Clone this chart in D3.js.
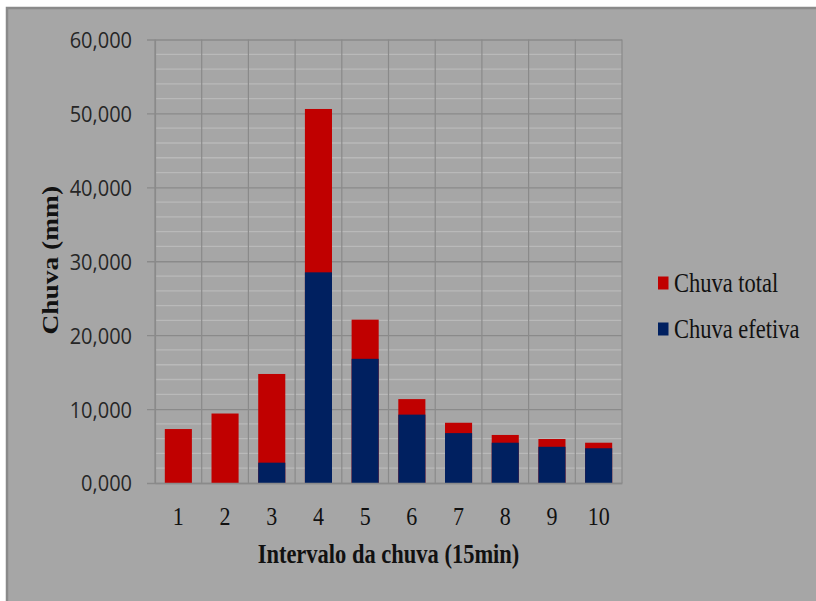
<!DOCTYPE html>
<html>
<head>
<meta charset="utf-8">
<script src="https://cdn.jsdelivr.net/npm/d3@7"></script>
<style>
  html, body { margin: 0; padding: 0; background: #ffffff; }
  svg { display: block; }
</style>
</head>
<body>
<svg id="chart" width="816" height="601"></svg>
<script>
// ---- Data (values in mm) ----
const categories = ["1", "2", "3", "4", "5", "6", "7", "8", "9", "10"];
const chuvaTotal = [7.3, 9.4, 14.75, 50.6, 22.1, 11.35, 8.15, 6.5, 5.95, 5.45];
const chuvaEfetiva = [0, 0, 2.75, 28.5, 16.8, 9.25, 6.75, 5.45, 4.9, 4.7];
const yMajorTicks = [0, 10, 20, 30, 40, 50, 60];
const yMinorTicks = [2, 4, 6, 8, 12, 14, 16, 18, 22, 24, 26, 28, 32, 34, 36, 38, 42, 44, 46, 48, 52, 54, 56, 58];
const seriesNames = ["Chuva total", "Chuva efetiva"];
const seriesColors = ["#c00000", "#002060"];
const xTitle = "Intervalo da chuva (15min)";
const yTitle = "Chuva (mm)";

const svg = d3.select("#chart");
const plot = { left: 155, right: 622, top: 39.5, bottom: 483 };

// chart frame
svg.append("rect").attr("x", 7).attr("y", 8).attr("width", 840).attr("height", 640)
  .attr("fill", "#a6a6a6").attr("stroke", "#8a8a8a").attr("stroke-width", 2.5);

const x = d3.scaleBand().domain(categories).range([plot.left, plot.right])
  .paddingInner(0.42).paddingOuter(0.21);
const y = d3.scaleLinear().domain([0, 60]).range([plot.bottom, plot.top]);

const ptBR = d3.formatLocale({ decimal: ",", thousands: ".", grouping: [3], currency: ["R$", ""] });
const fmt = ptBR.format(".3f");

// minor gridlines
svg.append("g").selectAll("line").data(yMinorTicks).join("line")
  .attr("x1", plot.left).attr("x2", plot.right)
  .attr("y1", d => y(d)).attr("y2", d => y(d))
  .attr("stroke", "#b9b9b9").attr("stroke-width", 1.3);

// vertical category gridlines
const boundaries = d3.range(categories.length + 1).map(i => plot.left + i * (plot.right - plot.left) / categories.length);
svg.append("g").selectAll("line").data(boundaries).join("line")
  .attr("x1", d => d).attr("x2", d => d)
  .attr("y1", plot.top).attr("y2", plot.bottom)
  .attr("stroke", "#8a8a8a").attr("stroke-width", 1.2);

// major gridlines + y axis ticks
const yAxis = d3.axisLeft(y).tickValues(yMajorTicks).tickFormat(fmt)
  .tickSizeInner(-(plot.right - plot.left)).tickSizeOuter(0).tickPadding(0);
const gy = svg.append("g").attr("transform", `translate(${plot.left},0)`).call(yAxis);
gy.select(".domain").attr("stroke", "#8a8a8a").attr("stroke-width", 1.2);
gy.selectAll(".tick line").attr("x1", -8).attr("stroke", "#8a8a8a").attr("stroke-width", 1.3);
gy.selectAll(".tick text").remove();
gy.selectAll(".tick").append("text")
  .attr("transform", "translate(-23,0) scale(1,1.1)")
  .attr("text-anchor", "end").attr("dy", "0.36em")
  .attr("fill", "#262626")
  .style("font-family", "'Open Sans', sans-serif").style("font-size", "20px")
  .text(d => fmt(d));

// bars: total (red) behind, efetiva (blue) in front
const barsData = categories.map((c, i) => ({ c, total: chuvaTotal[i], ef: chuvaEfetiva[i] }));
svg.append("g").selectAll("rect").data(barsData).join("rect")
  .attr("x", d => x(d.c)).attr("width", x.bandwidth())
  .attr("y", d => y(d.total)).attr("height", d => y(0) - y(d.total))
  .attr("fill", seriesColors[0]);
svg.append("g").selectAll("rect").data(barsData.filter(d => d.ef > 0)).join("rect")
  .attr("x", d => x(d.c)).attr("width", x.bandwidth())
  .attr("y", d => y(d.ef)).attr("height", d => y(0) - y(d.ef))
  .attr("fill", seriesColors[1]);

// x axis
const xAxis = d3.axisBottom(x).tickSize(0).tickPadding(0);
const gx = svg.append("g").attr("transform", `translate(0,${plot.bottom})`).call(xAxis);
gx.select(".domain").attr("stroke", "#8a8a8a").attr("stroke-width", 1.5);
gx.selectAll(".tick text").remove();
gx.selectAll(".tick").append("text")
  .attr("transform", "translate(0,42) scale(1,1.16)")
  .attr("text-anchor", "middle")
  .attr("fill", "#111")
  .style("font-family", "'Liberation Serif', 'Times New Roman', serif").style("font-size", "22px")
  .text(d => d);

// axis titles
svg.append("text")
  .attr("transform", `translate(${(plot.left + plot.right) / 2},563) scale(1,1.18)`)
  .attr("text-anchor", "middle").attr("fill", "#111")
  .style("font-family", "'Liberation Serif', 'Times New Roman', serif")
  .style("font-size", "22.5px").style("font-weight", "bold")
  .text(xTitle);

svg.append("text")
  .attr("transform", `translate(58,${(plot.top + plot.bottom) / 2 - 1}) rotate(-90) scale(1.22,1)`)
  .attr("text-anchor", "middle").attr("fill", "#111")
  .style("font-family", "'Liberation Serif', 'Times New Roman', serif")
  .style("font-size", "22.5px").style("font-weight", "bold")
  .text(yTitle);

// legend
const legend = svg.append("g");
const legendRows = [283, 329];
seriesNames.forEach((name, i) => {
  legend.append("rect").attr("x", 658).attr("y", legendRows[i] - 6.5)
    .attr("width", 10.5).attr("height", 13).attr("fill", seriesColors[i]);
  legend.append("text")
    .attr("transform", `translate(674,${legendRows[i]}) scale(1,1.17)`)
    .attr("dy", "0.33em").attr("fill", "#111")
    .style("font-family", "'Liberation Serif', 'Times New Roman', serif").style("font-size", "22.5px")
    .text(name);
});
</script>
</body>
</html>
